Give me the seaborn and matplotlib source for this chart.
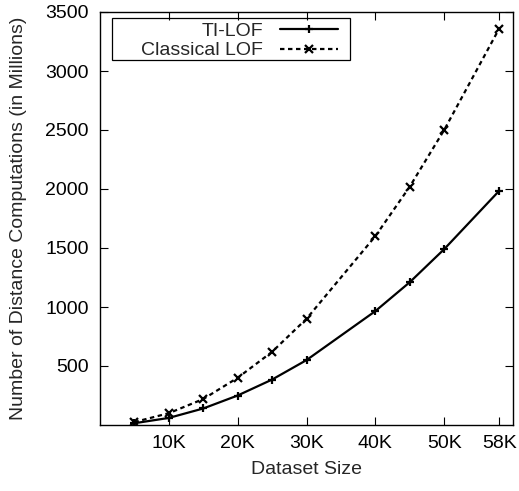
import numpy as np
import pandas as pd
import matplotlib
matplotlib.use("Agg")
import matplotlib.pyplot as plt
from matplotlib.patches import Rectangle
import seaborn as sns

sizes_k = [5, 10, 15, 20, 25, 30, 40, 45, 50, 58]
ti_lof = [15, 60, 140, 250, 385, 550, 965, 1210, 1490, 1985]
classical_lof = [25, 100, 220, 400, 620, 900, 1600, 2020, 2500, 3360]
xtick_vals = [10, 20, 30, 40, 50, 58]
xtick_labels = ["10K", "20K", "30K", "40K", "50K", "58K"]
ytick_vals = [500, 1000, 1500, 2000, 2500, 3000, 3500]

sns.set_style("ticks")
plt.rcParams["font.family"] = ["Liberation Sans", "DejaVu Sans"]
FS = 14

fig = plt.figure(figsize=(5.19, 4.91), dpi=100)
ax = fig.add_axes([100/519, 1 - 425/491, 413/519, 413/491])

df1 = pd.DataFrame({"x": sizes_k, "y": ti_lof})
df2 = pd.DataFrame({"x": sizes_k, "y": classical_lof})
sns.lineplot(data=df1, x="x", y="y", ax=ax, color="black")
sns.lineplot(data=df2, x="x", y="y", ax=ax, color="black")

l1, l2 = ax.lines[0], ax.lines[1]
l1.set_linestyle("-")
l1.set_marker("+")
l1.set_label("TI-LOF")
l2.set_linestyle((0, (2.0, 1.6)))
l2.set_marker("x")
l2.set_label("Classical LOF")
for l in (l1, l2):
    l.set_linewidth(1.6)
    l.set_markersize(6)
    l.set_markeredgewidth(1.6)
    l.set_color("black")
    l.set_markeredgecolor("black")
    l.set_markerfacecolor("black")

ax.set_xlim(0, 60)
ax.set_ylim(0, 3500)
ax.set_xticks(xtick_vals)
ax.set_xticklabels(xtick_labels)
ax.set_yticks(ytick_vals)
ax.tick_params(direction="in", top=True, right=True, length=6, width=0.8,
               colors="black", labelsize=FS)
ax.tick_params(axis="y", pad=8)
ax.tick_params(axis="x", pad=7)
for s in ax.spines.values():
    s.set_linewidth(1.0)
    s.set_color("black")
ax.set_xlabel("Dataset Size", fontsize=FS, labelpad=7)
ax.set_ylabel("Number of Distance Computations (in Millions)", fontsize=FS, labelpad=13)

leg = ax.legend(handles=[l1, l2], loc="upper right", bbox_to_anchor=(0.576, 0.976),
                markerfirst=False, frameon=False, handlelength=3.0, borderpad=0,
                labelspacing=0.12, handletextpad=0.85, fontsize=FS, borderaxespad=0)
ax.add_patch(Rectangle((0.029, 0.884), 0.576, 0.101, transform=ax.transAxes,
                       fill=False, edgecolor="black", linewidth=0.9, zorder=5))

fig.savefig("out.png", dpi=100)
